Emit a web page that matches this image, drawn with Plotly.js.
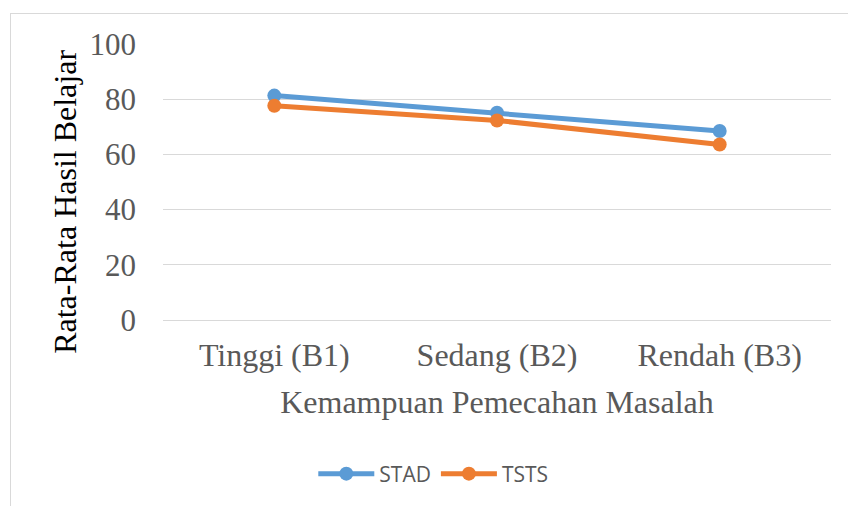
<!DOCTYPE html>
<html>
<head>
<meta charset="utf-8">
<script src="https://cdn.plot.ly/plotly-3.0.1.min.js"></script>
<style>
  html, body { margin: 0; padding: 0; background: #fff; }
  #wrap { position: relative; width: 848px; height: 506px; overflow: hidden; }
  #chart { width: 848px; height: 506px; }
  #frame { position: absolute; left: 10px; top: 13px; width: 900px; height: 600px;
           border-left: 1px solid #d9d9d9; border-top: 1px solid #d9d9d9; pointer-events: none; }
</style>
</head>
<body>
<div id="wrap">
  <div id="chart"></div>
  <div id="frame"></div>
</div>
<script>
const categories = ["Tinggi (B1)", "Sedang (B2)", "Rendah (B3)"];
const stad = [81.3, 75.1, 68.5];
const tsts = [77.6, 72.3, 63.6];
const yTicks = [0, 20, 40, 60, 80, 100];
const yTitle = "Rata-Rata Hasil Belajar";
const xTitle = "Kemampuan Pemecahan Masalah";

const serif = "Liberation Serif, Times New Roman, serif";

const traces = [
  {
    x: categories, y: stad, name: "STAD", type: "scatter", mode: "lines+markers",
    line: { color: "#5B9BD5", width: 5 },
    marker: { color: "#5B9BD5", size: 14 }
  },
  {
    x: categories, y: tsts, name: "TSTS", type: "scatter", mode: "lines+markers",
    line: { color: "#ED7D31", width: 5 },
    marker: { color: "#ED7D31", size: 14 }
  }
];

const layout = {
  width: 848, height: 506,
  margin: { l: 163, r: 17, t: 44, b: 186 },
  paper_bgcolor: "#ffffff", plot_bgcolor: "#ffffff",
  showlegend: true,
  legend: {
    orientation: "h", x: 0.225, xanchor: "left", y: -0.558, yanchor: "middle",
    font: { family: "Open Sans, sans-serif", size: 21, color: "#595959" },
    itemwidth: 56, traceorder: "normal"
  },
  xaxis: {
    type: "category", range: [-0.5, 2.5],
    showgrid: false, zeroline: false, showline: false,
    ticks: "", ticklabelstandoff: 13,
    tickfont: { family: serif, size: 32, color: "#595959" },
    title: { text: xTitle, standoff: 18,
             font: { family: serif, size: 32, color: "#595959" } }
  },
  yaxis: {
    range: [0, 100], tickvals: yTicks, ticktext: yTicks.map(String),
    showgrid: true, gridcolor: "#d9d9d9", gridwidth: 1,
    zeroline: true, zerolinecolor: "#d9d9d9", zerolinewidth: 1,
    showline: false, ticks: "", ticklabelstandoff: 26,
    tickfont: { family: serif, size: 31, color: "#595959" }
  },
  annotations: [{
    text: yTitle, xref: "paper", yref: "paper",
    x: -0.147, y: 0.4275, xanchor: "center", yanchor: "middle",
    textangle: -90, showarrow: false,
    font: { family: serif, size: 32, color: "#000000" }
  }]
};

Plotly.newPlot("chart", traces, layout, { displayModeBar: false, staticPlot: true });
</script>
</body>
</html>
